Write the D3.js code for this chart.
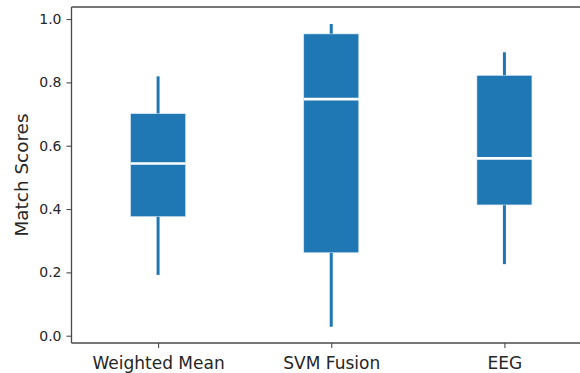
<!DOCTYPE html>
<html>
<head>
<meta charset="utf-8">
<script src="https://cdn.jsdelivr.net/npm/d3@7"></script>
<style>
  html, body { margin: 0; padding: 0; background: #fff; }
  svg { display: block; }
  .tick text { font-family: "DejaVu Sans", "Open Sans", sans-serif; fill: #262626; }
</style>
</head>
<body>
<div id="chart"></div>
<script>
// Match score distributions per method
const methods = ["Weighted Mean", "SVM Fusion", "EEG"];
const whiskerLow  = [0.192, 0.028, 0.226];
const quartile1   = [0.376, 0.262, 0.413];
const medians     = [0.544, 0.747, 0.560];
const quartile3   = [0.701, 0.953, 0.822];
const whiskerHigh = [0.819, 0.984, 0.895];
const yTicks = [0.0, 0.2, 0.4, 0.6, 0.8, 1.0];

const W = 580, H = 373;
const margin = { top: 7, right: -11, bottom: 30, left: 71.5 };
const innerW = W - margin.left - margin.right;
const innerH = H - margin.top - margin.bottom;

const svg = d3.select("#chart").append("svg")
  .attr("width", W).attr("height", H);

const g = svg.append("g")
  .attr("transform", `translate(${margin.left},${margin.top})`);

const x = d3.scalePoint().domain(methods).range([0, innerW]).padding(0.5);
const y = d3.scaleLinear().domain([-0.023, 1.038]).range([innerH, 0]);

const boxW = 55;
const color = "#1f77b4";

const rows = methods.map((m, i) => ({
  m, lo: whiskerLow[i], q1: quartile1[i], med: medians[i], q3: quartile3[i], hi: whiskerHigh[i]
}));

const box = g.selectAll(".box").data(rows).join("g").attr("class", "box");

box.append("line")
  .attr("x1", d => x(d.m)).attr("x2", d => x(d.m))
  .attr("y1", d => y(d.lo)).attr("y2", d => y(d.hi))
  .attr("stroke", color).attr("stroke-width", 3);

box.append("rect")
  .attr("x", d => x(d.m) - boxW / 2)
  .attr("width", boxW)
  .attr("y", d => y(d.q3))
  .attr("height", d => y(d.q1) - y(d.q3))
  .attr("fill", color)
  .attr("stroke", "#d6e6f3").attr("stroke-width", 0.6);

box.append("line")
  .attr("x1", d => x(d.m) - boxW / 2).attr("x2", d => x(d.m) + boxW / 2)
  .attr("y1", d => y(d.med)).attr("y2", d => y(d.med))
  .attr("stroke", "#ffffff").attr("stroke-width", 2.6);

// Frame
const axisColor = "#4a4a4a";
g.append("line").attr("x1", 0).attr("x2", innerW).attr("y1", 0).attr("y2", 0)
  .attr("stroke", axisColor).attr("stroke-width", 1.3);

const yAxis = g.append("g")
  .call(d3.axisLeft(y).tickValues(yTicks).tickFormat(d3.format(".1f")).tickSize(5).tickPadding(5));
yAxis.select(".domain").attr("d", `M0,0V${innerH}`);

const xAxis = g.append("g")
  .attr("transform", `translate(0,${innerH})`)
  .call(d3.axisBottom(x).tickSize(5).tickPadding(8.5));
xAxis.select(".domain").attr("d", `M0,0H${innerW}`);

[yAxis, xAxis].forEach(a => {
  a.select(".domain").attr("stroke", axisColor).attr("stroke-width", 1.3);
  a.selectAll(".tick line").attr("stroke", axisColor).attr("stroke-width", 1.1);
});
yAxis.selectAll(".tick text").attr("font-size", 14);
xAxis.selectAll(".tick text").attr("font-size", 17);

svg.append("text")
  .attr("transform", `translate(28,${margin.top + innerH / 2}) rotate(-90)`)
  .attr("text-anchor", "middle")
  .attr("font-family", "'DejaVu Sans', 'Open Sans', sans-serif")
  .attr("font-size", 18.4)
  .attr("fill", "#262626")
  .text("Match Scores");
</script>
</body>
</html>
